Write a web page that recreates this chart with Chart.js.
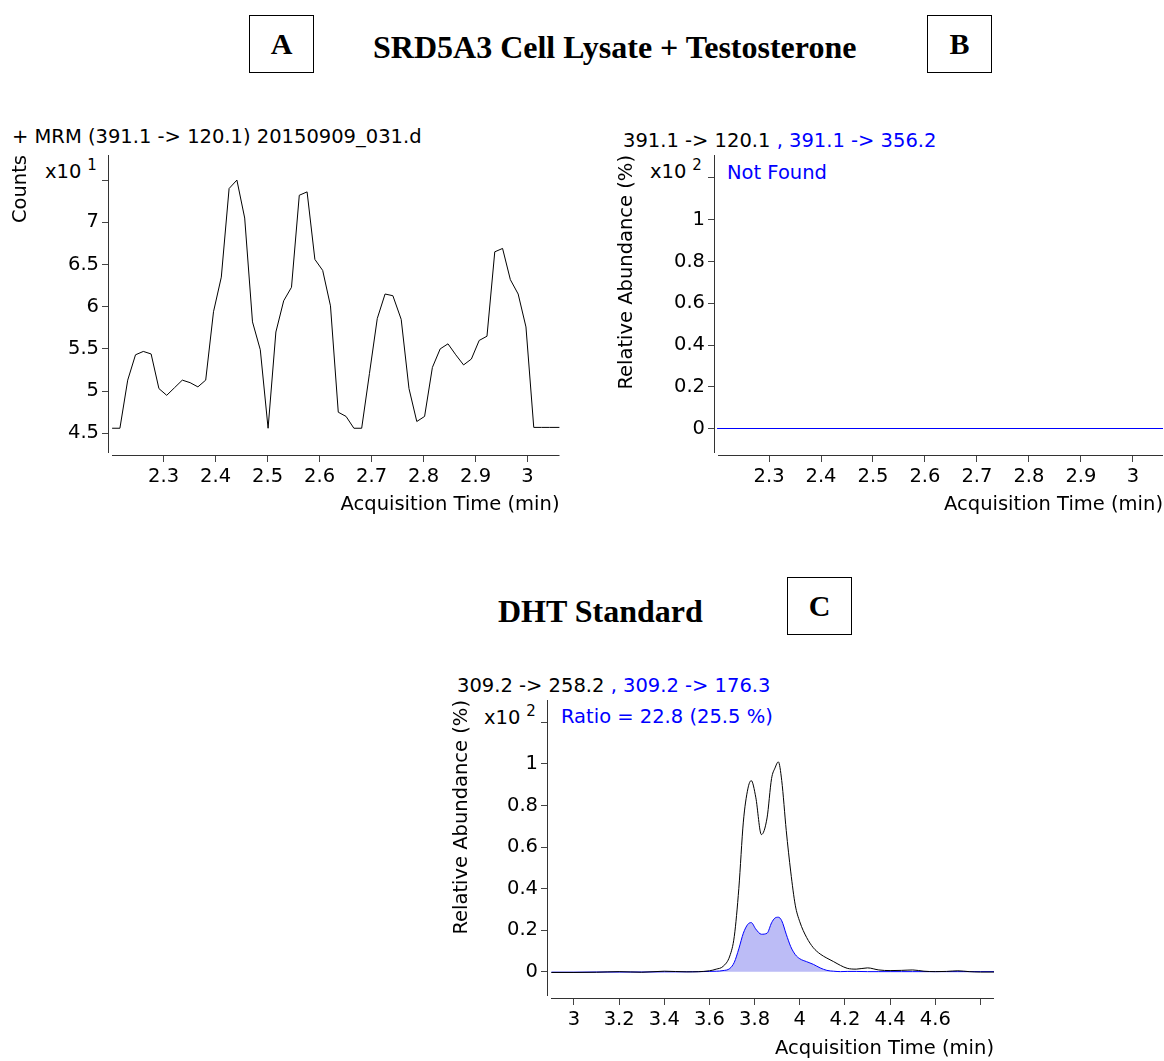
<!DOCTYPE html>
<html>
<head>
<meta charset="utf-8">
<script src="https://cdn.jsdelivr.net/npm/chart.js@4.4.1/dist/chart.umd.min.js"></script>
<style>
  body { margin: 0; background: #fff; }
  #page { position: relative; width: 1164px; height: 1061px; overflow: hidden; background: #fff; }
  .t { position: absolute; font-family: "DejaVu Sans", sans-serif; font-size: 19.5px; line-height: 20px; white-space: nowrap; color: #000; }
  .blue { color: #0000ff; }
  .sup { position: relative; top: -8px; font-size: 15px; margin-left: 6px; }
  .title { position: absolute; font-family: "Liberation Serif", "Times New Roman", serif; font-weight: bold; font-size: 32px; line-height: 32px; white-space: nowrap; }
  .box { position: absolute; border: 1px solid #000; font-family: "Liberation Serif", serif; font-weight: bold; font-size: 30px; text-align: center; box-sizing: border-box; }
  canvas { position: absolute; }
</style>
</head>
<body>
<div id="page">
  <div class="box" style="left:249px;top:15px;width:65px;height:58px;line-height:56px;">A</div>
  <div class="title" style="left:373px;top:31px;">SRD5A3 Cell Lysate + Testosterone</div>
  <div class="box" style="left:927px;top:15px;width:65px;height:58px;line-height:56px;">B</div>

  <div class="t" style="left:12px;top:127px;">+ MRM (391.1 -&gt; 120.1) 20150909_031.d</div>
  <div class="t" style="left:45px;top:162px;">x10<span class="sup">1</span></div>

  <div class="t" style="left:623px;top:131px;">391.1 -&gt; 120.1 <span class="blue">, 391.1 -&gt; 356.2</span></div>
  <div class="t" style="left:650px;top:162px;">x10<span class="sup">2</span></div>
  <div class="t blue" style="left:727px;top:163px;">Not Found</div>

  <div class="title" style="left:498px;top:595px;">DHT Standard</div>
  <div class="box" style="left:787px;top:577px;width:65px;height:58px;line-height:56px;">C</div>

  <div class="t" style="left:457px;top:676px;">309.2 -&gt; 258.2 <span class="blue">, 309.2 -&gt; 176.3</span></div>
  <div class="t" style="left:484px;top:708px;">x10<span class="sup">2</span></div>
  <div class="t blue" style="left:561px;top:707px;">Ratio = 22.8 (25.5 %)</div>

  <canvas id="chartA" width="565" height="395" style="left:0px;top:135px;"></canvas>
  <canvas id="chartB" width="564" height="395" style="left:600px;top:135px;"></canvas>
  <canvas id="chartC" width="570" height="385" style="left:430px;top:680px;"></canvas>
</div>

<script>
// ---- panel A: + MRM (391.1 -> 120.1), counts x10^1
var aTimes = [2.201, 2.216, 2.231, 2.246, 2.261, 2.276, 2.291, 2.306, 2.321, 2.336,
              2.351, 2.366, 2.381, 2.396, 2.411, 2.426, 2.441, 2.456, 2.471, 2.486,
              2.501, 2.516, 2.531, 2.546, 2.561, 2.576, 2.591, 2.606, 2.621, 2.636,
              2.651, 2.666, 2.681, 2.696, 2.711, 2.726, 2.741, 2.757, 2.772, 2.787,
              2.802, 2.817, 2.832, 2.847, 2.862, 2.877, 2.892, 2.907, 2.922, 2.937,
              2.952, 2.967, 2.982, 2.997, 3.012, 3.027, 3.042, 3.062];
var aCounts = [4.56, 4.56, 5.13, 5.43, 5.47, 5.44, 5.03, 4.95, 5.04, 5.13,
               5.10, 5.05, 5.13, 5.94, 6.35, 7.40, 7.50, 7.05, 5.82, 5.49,
               4.56, 5.70, 6.07, 6.23, 7.32, 7.36, 6.56, 6.43, 6.01, 4.75,
               4.70, 4.56, 4.56, 5.21, 5.86, 6.15, 6.13, 5.85, 5.03, 4.64,
               4.70, 5.28, 5.50, 5.56, 5.43, 5.31, 5.38, 5.60, 5.65, 6.65,
               6.69, 6.32, 6.15, 5.76, 4.57, 4.57, 4.57, 4.57];
var aXTicks = [2.3, 2.4, 2.5, 2.6, 2.7, 2.8, 2.9, 3];
var aXLabels = ['2.3', '2.4', '2.5', '2.6', '2.7', '2.8', '2.9', '3'];
var aYTicks = [4.5, 5, 5.5, 6, 6.5, 7, 7.5];
var aYLabels = ['4.5', '5', '5.5', '6', '6.5', '7', ''];

// ---- panel B: 391.1 -> 356.2 not found, flat line
var bTimes = [2.2, 3.058];
var bAbund = [0, 0];
var bXTicks = [2.3, 2.4, 2.5, 2.6, 2.7, 2.8, 2.9, 3];
var bXLabels = ['2.3', '2.4', '2.5', '2.6', '2.7', '2.8', '2.9', '3'];
var bYTicks = [0, 0.2, 0.4, 0.6, 0.8, 1, 1.2];
var bYLabels = ['0', '0.2', '0.4', '0.6', '0.8', '1', ''];

// ---- panel C: DHT standard, 309.2 -> 258.2 (black) and 309.2 -> 176.3 (blue)
var cTimes = [2.9, 3.0, 3.1, 3.2, 3.3, 3.4, 3.5, 3.6, 3.63, 3.66,
              3.69, 3.71, 3.73, 3.75, 3.77, 3.785, 3.805, 3.83, 3.855, 3.875,
              3.89, 3.905, 3.92, 3.94, 3.96, 3.98, 4.0, 4.03, 4.06, 4.09,
              4.12, 4.15, 4.18, 4.21, 4.25, 4.3, 4.35, 4.4, 4.45, 4.5,
              4.55, 4.6, 4.65, 4.7, 4.75, 4.8, 4.86];
var cQuant = [-0.004, -0.004, -0.003, 0.0, -0.003, 0.002, -0.001, 0.004, 0.012, 0.025,
              0.075, 0.17, 0.40, 0.72, 0.88, 0.92, 0.84, 0.66, 0.74, 0.93,
              0.98, 1.01, 0.92, 0.68, 0.48, 0.32, 0.24, 0.165, 0.115, 0.085,
              0.065, 0.048, 0.03, 0.016, 0.012, 0.018, 0.008, 0.005, 0.006, 0.008,
              0.002, 0.0, 0.001, 0.004, 0.0, -0.002, -0.002];
var cQual = [-0.003, -0.003, -0.002, -0.002, -0.002, -0.001, -0.001, 0.001, 0.002, 0.005,
             0.015, 0.045, 0.11, 0.185, 0.228, 0.236, 0.205, 0.18, 0.185, 0.235,
             0.258, 0.262, 0.245, 0.18, 0.12, 0.082, 0.062, 0.048, 0.035, 0.018,
             0.006, 0.002, 0.0, 0.001, 0.001, 0.0, 0.0, 0.0, 0.0, 0.0,
             0.0, 0.0, 0.0, 0.0, 0.0, 0.0, 0.0];
var cXTicks = [3, 3.2, 3.4, 3.6, 3.8, 4, 4.2, 4.4, 4.6, 4.8];
var cXLabels = ['3', '3.2', '3.4', '3.6', '3.8', '4', '4.2', '4.4', '4.6', ''];
var cYTicks = [0, 0.2, 0.4, 0.6, 0.8, 1, 1.2];
var cYLabels = ['0', '0.2', '0.4', '0.6', '0.8', '1', ''];

Chart.defaults.font.family = 'DejaVu Sans';
Chart.defaults.font.size = 19.5;
Chart.defaults.color = '#000';
Chart.defaults.animation = false;

function pts(xs, ys) {
  return xs.map(function(x, i) { return {x: x, y: ys[i]}; });
}

// axis lines like the instrument software: y line full, x line starts a bit right
var axisLines = {
  id: 'axisLines',
  afterDraw: function(chart) {
    var a = chart.chartArea, ctx = chart.ctx;
    ctx.save();
    ctx.strokeStyle = '#333';
    ctx.lineWidth = 1;
    ctx.beginPath();
    ctx.moveTo(Math.round(a.left) - 0.5, a.top);
    ctx.lineTo(Math.round(a.left) - 0.5, a.bottom - 2);
    ctx.moveTo(a.left + 3, Math.round(a.bottom) + 0.5);
    ctx.lineTo(a.right, Math.round(a.bottom) + 0.5);
    ctx.stroke();
    ctx.restore();
  }
};

function makeChart(id, datasets, o) {
  return new Chart(document.getElementById(id), {
    type: 'line',
    data: { datasets: datasets },
    plugins: [axisLines],
    options: {
      responsive: false,
      layout: { padding: { top: o.padTop, right: o.padRight, left: 0, bottom: 0 } },
      plugins: { legend: { display: false }, tooltip: { enabled: false } },
      elements: { point: { radius: 0 } },
      scales: {
        x: {
          type: 'linear',
          min: o.xMin, max: o.xMax,
          border: { display: false },
          grid: { drawOnChartArea: false, drawTicks: true, tickLength: 7, color: '#444' },
          afterBuildTicks: function(s) { s.ticks = o.xTicks.map(function(v) { return {value: v}; }); },
          afterFit: function(s) { s.height = o.xHeight; },
          ticks: {
            autoSkip: false, maxRotation: 0, padding: 3,
            callback: function(v, i) { return o.xLabels[i]; }
          },
          title: { display: true, text: 'Acquisition Time (min)', align: 'end',
                   padding: { top: 0, bottom: o.xTitlePad } }
        },
        y: {
          type: 'linear',
          min: o.yMin, max: o.yMax,
          border: { display: false },
          grid: { drawOnChartArea: false, drawTicks: true, tickLength: 7, color: '#444' },
          afterBuildTicks: function(s) { s.ticks = o.yTicks.map(function(v) { return {value: v}; }); },
          afterFit: function(s) { s.width = o.yWidth; },
          ticks: {
            autoSkip: false, padding: 3,
            callback: function(v, i) { return o.yLabels[i]; }
          },
          title: { display: true, text: o.yTitle, align: 'end',
                   padding: { top: o.yTitlePad, bottom: 0 } }
        }
      }
    }
  });
}

makeChart('chartA', [{
  data: pts(aTimes, aCounts),
  borderColor: '#000', borderWidth: 1, tension: 0, fill: false
}], {
  padTop: 20, padRight: 5.5, xHeight: 75, yWidth: 109,
  xMin: 2.195, xMax: 3.0615, yMin: 4.243, yMax: 7.797,
  xTicks: aXTicks, xLabels: aXLabels, yTicks: aYTicks, yLabels: aYLabels,
  xTitlePad: 13, yTitle: 'Counts', yTitlePad: 9
});

makeChart('chartB', [{
  data: pts(bTimes, bAbund),
  borderColor: '#0000ff', borderWidth: 1, tension: 0, fill: false
}], {
  padTop: 20, padRight: 1, xHeight: 75, yWidth: 115,
  xMin: 2.196, xMax: 3.058, yMin: -0.1269, yMax: 1.3101,
  xTicks: bXTicks, xLabels: bXLabels, yTicks: bYTicks, yLabels: bYLabels,
  xTitlePad: 13, yTitle: 'Relative Abundance (%)', yTitlePad: 15
});

makeChart('chartC', [{
  data: pts(cTimes, cQuant),
  borderColor: '#000', borderWidth: 1, tension: 0.4, cubicInterpolationMode: 'monotone', fill: false
}, {
  data: pts(cTimes, cQual),
  borderColor: '#0000ff', borderWidth: 1, tension: 0.4, cubicInterpolationMode: 'monotone',
  fill: 'origin', backgroundColor: 'rgb(188,188,246)'
}], {
  padTop: 20, padRight: 6, xHeight: 67, yWidth: 118,
  xMin: 2.885, xMax: 4.86, yMin: -0.127, yMax: 1.308,
  xTicks: cXTicks, xLabels: cXLabels, yTicks: cYTicks, yLabels: cYLabels,
  xTitlePad: 4, yTitle: 'Relative Abundance (%)', yTitlePad: 20
});
</script>
</body>
</html>
